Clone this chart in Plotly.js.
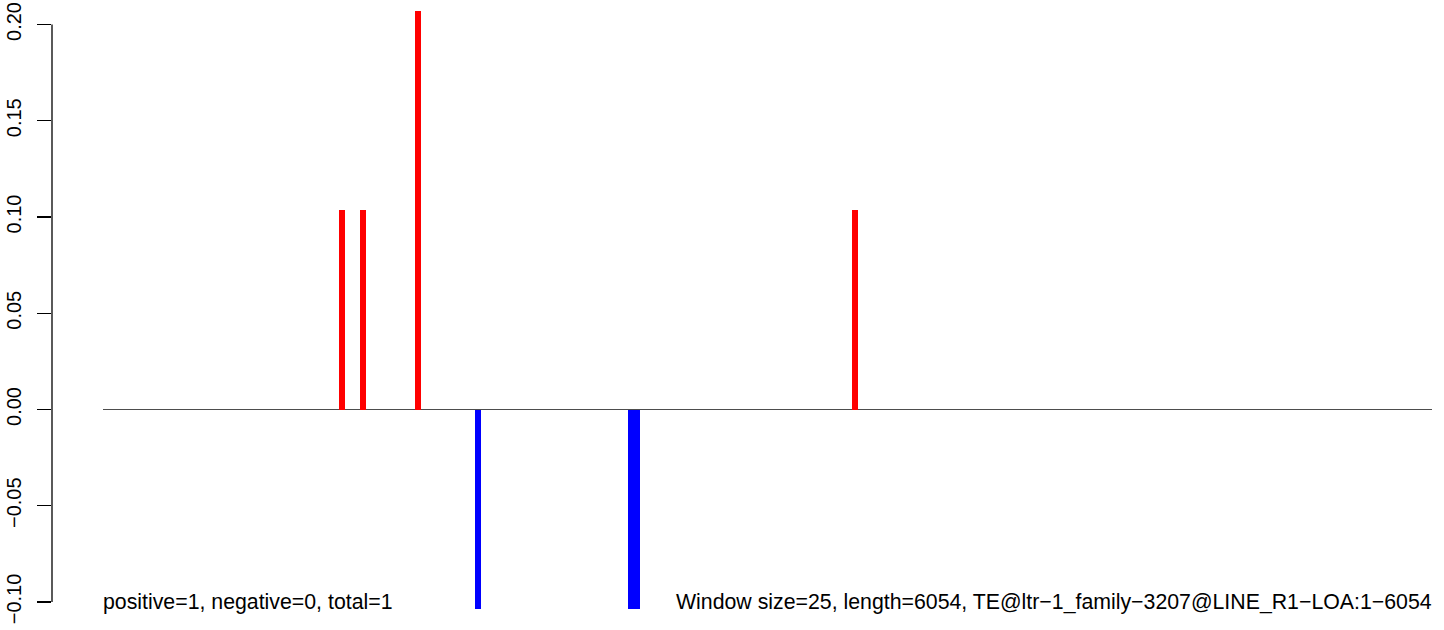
<!DOCTYPE html>
<html>
<head>
<meta charset="utf-8">
<script src="https://cdn.plot.ly/plotly-3.0.1.min.js"></script>
<style>html,body{margin:0;padding:0;background:#fff;}#chart{width:1444px;height:630px;}</style>
</head>
<body>
<div id="chart"></div>
<script>
// Data (positions in bp along the 6054 bp element, values per window)
const seqLength = 6054;
const positions = [1089, 1185, 1435, 1709, 2405, 2432, 3426];
const values    = [0.1034, 0.1034, 0.2068, -0.1034, -0.1034, -0.1034, 0.1034];
const barWidthBp = 27;
const yTickVals = [-0.10, -0.05, 0.00, 0.05, 0.10, 0.15, 0.20];
const yTickText = ["\u22120.10", "\u22120.05", "0.00", "0.05", "0.10", "0.15", "0.20"];
const leftLabel = "positive=1, negative=0, total=1";
const rightLabel = "Window size=25, length=6054, TE@ltr\u22121_family\u22123207@LINE_R1\u2212LOA:1\u22126054";

const colors = values.map(v => v >= 0 ? "#FF0000" : "#0000FF");

const trace = {
  type: "bar",
  x: positions,
  y: values,
  width: positions.map(() => barWidthBp),
  marker: {color: colors, line: {width: 0}},
  hoverinfo: "x+y"
};

const font = {family: "Liberation Sans, Arial, Helvetica, sans-serif", color: "#000000"};

const layout = {
  width: 1444,
  height: 630,
  margin: {l: 52, r: 12, t: 5, b: 5, pad: 0},
  paper_bgcolor: "#ffffff",
  plot_bgcolor: "#ffffff",
  showlegend: false,
  bargap: 0,
  xaxis: {
    range: [-231.3, 6054],
    visible: false,
    showgrid: false,
    zeroline: false
  },
  yaxis: {
    range: [-0.11195, 0.21013],
    tickmode: "array",
    tickvals: yTickVals,
    ticktext: yTickText,
    ticks: "outside",
    ticklen: 14,
    tickwidth: 1.3,
    tickcolor: "#000000",
    tickangle: -90,
    ticklabelstandoff: 8,
    tickfont: Object.assign({size: 20}, font),
    showgrid: false,
    zeroline: false,
    showline: false
  },
  shapes: [
    {type: "line", xref: "paper", yref: "y", x0: 0, x1: 0, y0: yTickVals[0], y1: yTickVals[yTickVals.length - 1],
     line: {color: "#000000", width: 1.3}},
    {type: "line", xref: "x", yref: "y", x0: 1, x1: seqLength, y0: 0, y1: 0, layer: "below",
     line: {color: "#4d4d4d", width: 1}}
  ],
  annotations: [
    {xref: "x", yref: "y", x: 1, y: -0.1, xanchor: "left", yanchor: "middle", showarrow: false, xshift: -2,
     text: leftLabel, font: Object.assign({size: 21.3}, font)},
    {xref: "x", yref: "y", x: seqLength, y: -0.1, xanchor: "right", yanchor: "middle", showarrow: false, xshift: 2,
     text: rightLabel, font: Object.assign({size: 21.3}, font)}
  ]
};

Plotly.newPlot("chart", [trace], layout, {displayModeBar: false, staticPlot: true});
</script>
</body>
</html>
